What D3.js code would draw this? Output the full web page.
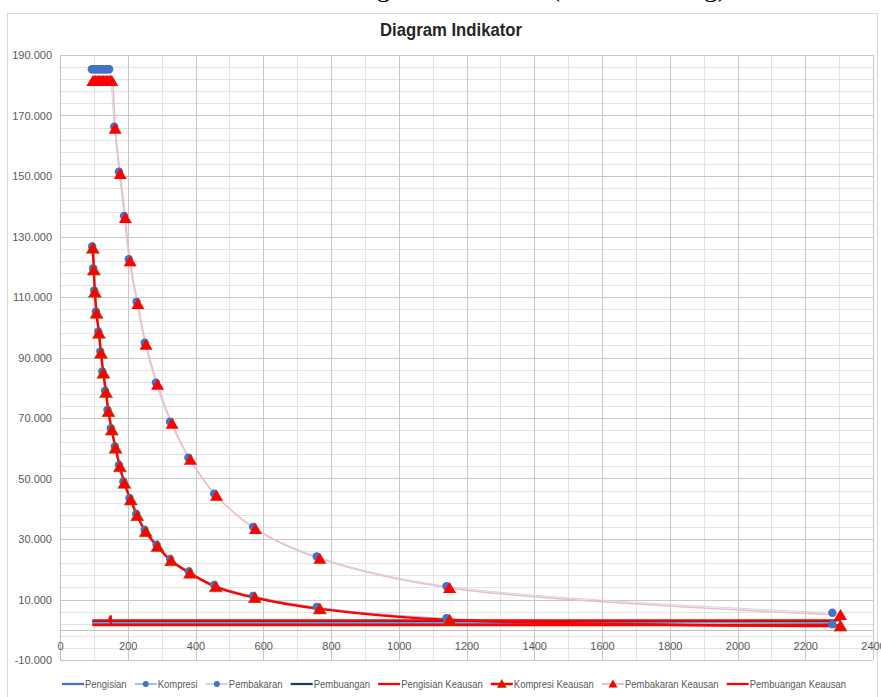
<!DOCTYPE html>
<html>
<head>
<meta charset="utf-8">
<script src="https://cdn.jsdelivr.net/npm/d3@7"></script>
<style>
  body { margin: 0; background: #fff; }
  svg { display: block; font-family: "Liberation Sans", Arial, sans-serif; }
</style>
</head>
<body>
<div id="chart"></div>
<script>
// volume (x) and pressure (y) of every series
var vPengisian = [95, 2280],
    pPengisian = [1.9, 1.9];

var vKompresi = [95, 98, 101, 106, 113, 119, 125, 133, 140, 150, 162, 174, 187, 205, 225, 250, 285, 325, 380, 455, 570, 758, 1141, 2280],
    pKompresi = [126.7, 119.5, 112.2, 105.2, 98.6, 92.0, 85.4, 79.0, 72.7, 66.6, 60.6, 54.5, 49.0, 43.5, 38.3, 33.0, 28.1, 23.4, 19.3, 14.8, 11.2, 7.5, 3.8, 1.8];

var vPembakaran = [94, 98, 102, 106, 110, 114, 118, 122, 126, 130, 134, 138, 142, 145, 160, 174, 189, 203, 226, 250, 283, 325, 379, 455, 570, 758, 1141, 2280],
    pPembakaran = [185.3, 185.3, 185.3, 185.3, 185.3, 185.3, 185.3, 185.3, 185.3, 185.3, 185.3, 185.3, 185.3, 185.3, 166.3, 151.4, 136.8, 122.5, 108.4, 94.9, 81.7, 68.8, 56.9, 45.0, 34.0, 24.2, 14.4, 5.6];

var vPembuangan = [2280, 95],
    pPembuangan = [2.8, 2.8];

var vPengisianK = [96, 2304],
    pPengisianK = [1.5, 1.5];

var vKompresiK = [97, 100, 103, 108, 115, 121, 128, 136, 143, 153, 164, 177, 190, 209, 228, 253, 288, 328, 384, 460, 575, 767, 1150, 2304],
    pKompresiK = [126.1, 118.9, 111.6, 104.6, 98.0, 91.4, 84.8, 78.4, 72.1, 66.0, 60.0, 53.9, 48.4, 42.9, 37.7, 32.4, 27.5, 22.8, 18.7, 14.2, 10.6, 6.9, 3.2, 1.2];

var vPembakaranK = [97, 101, 105, 109, 113, 117, 121, 125, 129, 133, 137, 141, 145, 149, 153, 163, 178, 193, 207, 230, 254, 288, 331, 385, 462, 577, 767, 1150, 2304],
    pPembakaranK = [181.4, 181.4, 181.4, 181.4, 181.4, 181.4, 181.4, 181.4, 181.4, 181.4, 181.4, 181.4, 181.4, 181.4, 181.4, 165.6, 150.7, 136.1, 121.8, 107.7, 94.2, 81.0, 68.1, 56.2, 44.3, 33.3, 23.5, 13.8, 4.9];

var vPembuanganK = [2304, 150, 146, 150, 150, 150, 96],
    pPembuanganK = [3.1, 3.1, 3.8, 4.5, 1.5, 3.1, 3.1];

var xTicks = [0, 200, 400, 600, 800, 1000, 1200, 1400, 1600, 1800, 2000, 2200, 2400],
    yTicks = [-10, 10, 30, 50, 70, 90, 110, 130, 150, 170, 190];

var seriesNames = ["Pengisian", "Kompresi", "Pembakaran", "Pembuangan", "Pengisian Keausan", "Kompresi Keausan", "Pembakaran Keausan", "Pembuangan Keausan"];

(function() {
    var width = 881,
        height = 697;

    var svg = d3.select("#chart")
        .append("svg")
        .attr("width", width)
        .attr("height", height);

    var x = d3.scaleLinear().domain([0, 2400]).range([60, 873]),
        y = d3.scaleLinear().domain([-10, 190]).range([660, 55]);

    function zip(vs, ps) {
        return vs.map(function(v, i) { return [v, ps[i]]; });
    }

    // caption line of the page above, cropped by the picture's top edge
    svg.append("text")
        .attr("x", 455).attr("y", -4)
        .attr("text-anchor", "middle")
        .style("font-family", "'Liberation Serif', serif")
        .style("font-size", "28px")
        .attr("fill", "#000")
        .text("Gambar 4.12 Diagram Indikator (Keausan Ring)");

    // chart border
    svg.append("rect")
        .attr("x", 7.5).attr("y", 13.5)
        .attr("width", 870).attr("height", 700)
        .attr("fill", "#fff")
        .attr("stroke", "#d9d9d9");

    svg.append("text")
        .attr("x", 451).attr("y", 36)
        .attr("text-anchor", "middle")
        .attr("textLength", 142)
        .attr("lengthAdjust", "spacingAndGlyphs")
        .style("font-size", "18px")
        .style("font-weight", "bold")
        .attr("fill", "#262626")
        .text("Diagram Indikator");

    // gridlines
    var grid = svg.append("g");
    grid.selectAll(".hminor")
        .data(d3.range(-10, 191, 4))
        .enter().append("line")
        .attr("x1", x(0)).attr("x2", x(2400))
        .attr("y1", function(d) { return Math.round(y(d)) + 0.5; })
        .attr("y2", function(d) { return Math.round(y(d)) + 0.5; })
        .attr("stroke", "#e3e3e3");
    grid.selectAll(".vminor")
        .data(d3.range(100, 2401, 200))
        .enter().append("line")
        .attr("y1", y(-10)).attr("y2", y(190))
        .attr("x1", function(d) { return Math.round(x(d)) + 0.5; })
        .attr("x2", function(d) { return Math.round(x(d)) + 0.5; })
        .attr("stroke", "#e3e3e3");
    grid.selectAll(".hmajor")
        .data(yTicks)
        .enter().append("line")
        .attr("x1", x(0)).attr("x2", x(2400))
        .attr("y1", function(d) { return Math.round(y(d)) + 0.5; })
        .attr("y2", function(d) { return Math.round(y(d)) + 0.5; })
        .attr("stroke", "#c8c8c8");
    grid.selectAll(".vmajor")
        .data(xTicks)
        .enter().append("line")
        .attr("y1", y(-10)).attr("y2", y(190))
        .attr("x1", function(d) { return Math.round(x(d)) + 0.5; })
        .attr("x2", function(d) { return Math.round(x(d)) + 0.5; })
        .attr("stroke", "#c8c8c8");

    // horizontal axis crosses at zero
    svg.append("line")
        .attr("x1", x(0)).attr("x2", x(2400))
        .attr("y1", Math.round(y(0)) + 0.5).attr("y2", Math.round(y(0)) + 0.5)
        .attr("stroke", "#bfbfbf");

    var fmt = d3.formatLocale({decimal: ".", thousands: ",", grouping: [3], currency: ["", ""], minus: "-"}).format(".3f");

    var yAxis = svg.append("g")
        .attr("transform", "translate(" + x(0) + ",0)")
        .call(d3.axisLeft(y).tickValues(yTicks).tickFormat(fmt).tickSize(0).tickPadding(8));
    yAxis.select(".domain").attr("stroke", "#bfbfbf");

    var xAxis = svg.append("g")
        .attr("transform", "translate(0," + y(0) + ")")
        .call(d3.axisBottom(x).tickValues(xTicks).tickFormat(d3.format("d")).tickSize(0).tickPadding(12));
    xAxis.select(".domain").remove();

    svg.selectAll(".tick text")
        .style("font-size", "11px")
        .style("font-family", "'Liberation Sans', sans-serif")
        .attr("fill", "#595959");

    var smooth = d3.line()
        .x(function(d) { return x(d[0]); })
        .y(function(d) { return y(d[1]); })
        .curve(d3.curveCatmullRom.alpha(0.5));
    var straight = d3.line()
        .x(function(d) { return x(d[0]); })
        .y(function(d) { return y(d[1]); });

    var series = [
        {name: seriesNames[0], data: zip(vPengisian, pPengisian), color: "#4472c4", w: 2.25, gen: straight},
        {name: seriesNames[1], data: zip(vKompresi, pKompresi), color: "#9dc3e6", w: 1, gen: smooth, marker: "circle"},
        {name: seriesNames[2], data: zip(vPembakaran, pPembakaran), color: "#c9d6ee", w: 1, gen: smooth, marker: "circle"},
        {name: seriesNames[3], data: zip(vPembuangan, pPembuangan), color: "#203864", w: 2.25, gen: straight},
        {name: seriesNames[4], data: zip(vPengisianK, pPengisianK), color: "#ff0000", w: 2.25, gen: straight},
        {name: seriesNames[5], data: zip(vKompresiK, pKompresiK), color: "#ff0000", w: 2.5, gen: smooth, marker: "tri", edge: "#7f6000"},
        {name: seriesNames[6], data: zip(vPembakaranK, pPembakaranK), color: "#eebcc6", w: 1.5, gen: smooth, marker: "tri"},
        {name: seriesNames[7], data: zip(vPembuanganK, pPembuanganK), color: "#ff0000", w: 2.25, gen: straight}
    ];

    var triPath = "M0,-6L6.5,5L-6.5,5Z";

    var plot = svg.append("g");
    series.forEach(function(s) {
        plot.append("path")
            .attr("d", s.gen(s.data))
            .attr("fill", "none")
            .attr("stroke", s.color)
            .attr("stroke-width", s.w)
            .attr("stroke-linejoin", "round");
    });

    series.forEach(function(s) {
        if (s.marker == "circle") {
            plot.selectAll(null)
                .data(s.data)
                .enter().append("circle")
                .attr("cx", function(d) { return x(d[0]); })
                .attr("cy", function(d) { return y(d[1]); })
                .attr("r", 4.2)
                .attr("fill", "#4472c4");
        } else if (s.marker == "tri") {
            plot.selectAll(null)
                .data(s.data)
                .enter().append("path")
                .attr("d", triPath)
                .attr("transform", function(d) { return "translate(" + x(d[0]) + "," + y(d[1]) + ")"; })
                .attr("fill", "#ff0000")
                .attr("stroke", s.edge || "none")
                .attr("stroke-width", 0.6);
        }
    });

    // legend: laid out left to right between x 62 and 846
    var legendLeft = 62,
        legendRight = 846,
        legendY = 684,
        squeeze = 0.86;

    var legend = svg.append("g")
        .selectAll("g")
        .data(series)
        .enter().append("g");

    legend.append("line")
        .attr("x1", 0).attr("x2", 22)
        .attr("stroke", function(d) { return d.color; })
        .attr("stroke-width", function(d) { return Math.max(d.w, 2); });
    legend.filter(function(d) { return d.marker == "circle"; })
        .append("circle")
        .attr("cx", 11).attr("r", 3)
        .attr("fill", "#4472c4");
    legend.filter(function(d) { return d.marker == "tri"; })
        .append("path")
        .attr("d", "M0,-4.5L4.5,3.5L-4.5,3.5Z")
        .attr("transform", "translate(11,0)")
        .attr("fill", "#ff0000")
        .attr("stroke", function(d) { return d.edge || "none"; })
        .attr("stroke-width", 0.6);
    var labels = legend.append("text")
        .attr("x", 23)
        .attr("dy", "0.35em")
        .style("font-size", "11px")
        .attr("fill", "#595959")
        .text(function(d) { return d.name; });

    var widths = [];
    labels.each(function() { widths.push(this.getComputedTextLength() * squeeze); });
    labels.attr("textLength", function(d, i) { return widths[i]; })
        .attr("lengthAdjust", "spacingAndGlyphs");

    var used = d3.sum(widths) + 23 * series.length,
        gap = (legendRight - legendLeft - used) / (series.length - 1),
        pos = legendLeft;
    legend.attr("transform", function(d, i) {
        var t = "translate(" + pos + "," + legendY + ")";
        pos += 23 + widths[i] + gap;
        return t;
    });
})();
</script>
</body>
</html>
